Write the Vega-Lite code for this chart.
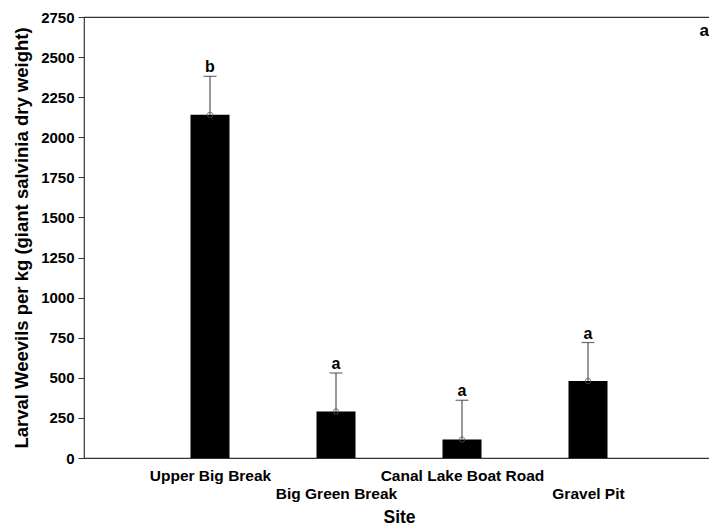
{
  "$schema": "https://vega.github.io/schema/vega-lite/v6.json",
  "width": 630,
  "height": 441,
  "padding": {"left": 12, "top": 10, "right": 0, "bottom": 0},
  "background": "white",
  "config": {
    "font": "Liberation Sans",
    "view": {"stroke": "#333", "strokeWidth": 1.2},
    "axis": {"labelFont": "Liberation Sans", "titleFont": "Liberation Sans", "labelColor": "black", "titleColor": "black", "domainColor": "#333", "tickColor": "#333", "grid": false}
  },
  "title": {"text": "a", "anchor": "end", "offset": -30, "fontSize": 17, "fontWeight": "bold", "font": "Liberation Sans", "color": "black", "dx": -5},
  "data": {"values": [
    {"site": "Upper Big Break", "mean": 2140, "upper": 2380, "letter": "b"},
    {"site": "Big Green Break", "mean": 290, "upper": 530, "letter": "a"},
    {"site": "Canal Lake Boat Road", "mean": 115, "upper": 360, "letter": "a"},
    {"site": "Gravel Pit", "mean": 480, "upper": 720, "letter": "a"}
  ]},
  "encoding": {
    "x": {
      "field": "site", "type": "nominal", "sort": null,
      "scale": {"type": "point", "padding": 1},
      "axis": {
        "title": "Site", "titleFontSize": 17.5, "titleFontWeight": "bold", "titlePadding": 7,
        "labelAngle": 0, "labelFontSize": 15.5, "labelFontWeight": "bold", "labelPadding": 10,
        "labelLineHeight": 18, "ticks": false, "domain": false,
        "labelExpr": "indexof(['Big Green Break','Gravel Pit'], datum.value) >= 0 ? ['', datum.value] : datum.value"
      }
    }
  },
  "layer": [
    {
      "mark": {"type": "bar", "color": "black", "width": 39},
      "encoding": {
        "y": {
          "field": "mean", "type": "quantitative",
          "scale": {"domain": [0, 2750], "nice": false},
          "axis": {
            "title": "Larval Weevils per kg (giant salvinia dry weight)",
            "titleFontSize": 18.5, "titleFontWeight": "bold", "titlePadding": 9,
            "values": [0,250,500,750,1000,1250,1500,1750,2000,2250,2500,2750],
            "format": "d",
            "labelFontSize": 15, "labelFontWeight": "bold", "tickSize": 6, "labelPadding": 4,
            "domain": false
          }
        }
      }
    },
    {
      "mark": {"type": "rule", "color": "#333", "strokeWidth": 1},
      "encoding": {"y": {"field": "mean", "type": "quantitative"}, "y2": {"field": "upper"}}
    },
    {
      "mark": {"type": "tick", "color": "#333", "thickness": 1.2, "size": 13},
      "encoding": {"y": {"field": "upper", "type": "quantitative"}}
    },
    {
      "mark": {"type": "point", "filled": false, "color": "#555", "size": 30, "strokeWidth": 1},
      "encoding": {"y": {"field": "mean", "type": "quantitative"}}
    },
    {
      "mark": {"type": "text", "baseline": "bottom", "dy": -1, "fontSize": 16, "fontWeight": "bold", "color": "black"},
      "encoding": {"y": {"field": "upper", "type": "quantitative"}, "text": {"field": "letter"}}
    }
  ]
}
